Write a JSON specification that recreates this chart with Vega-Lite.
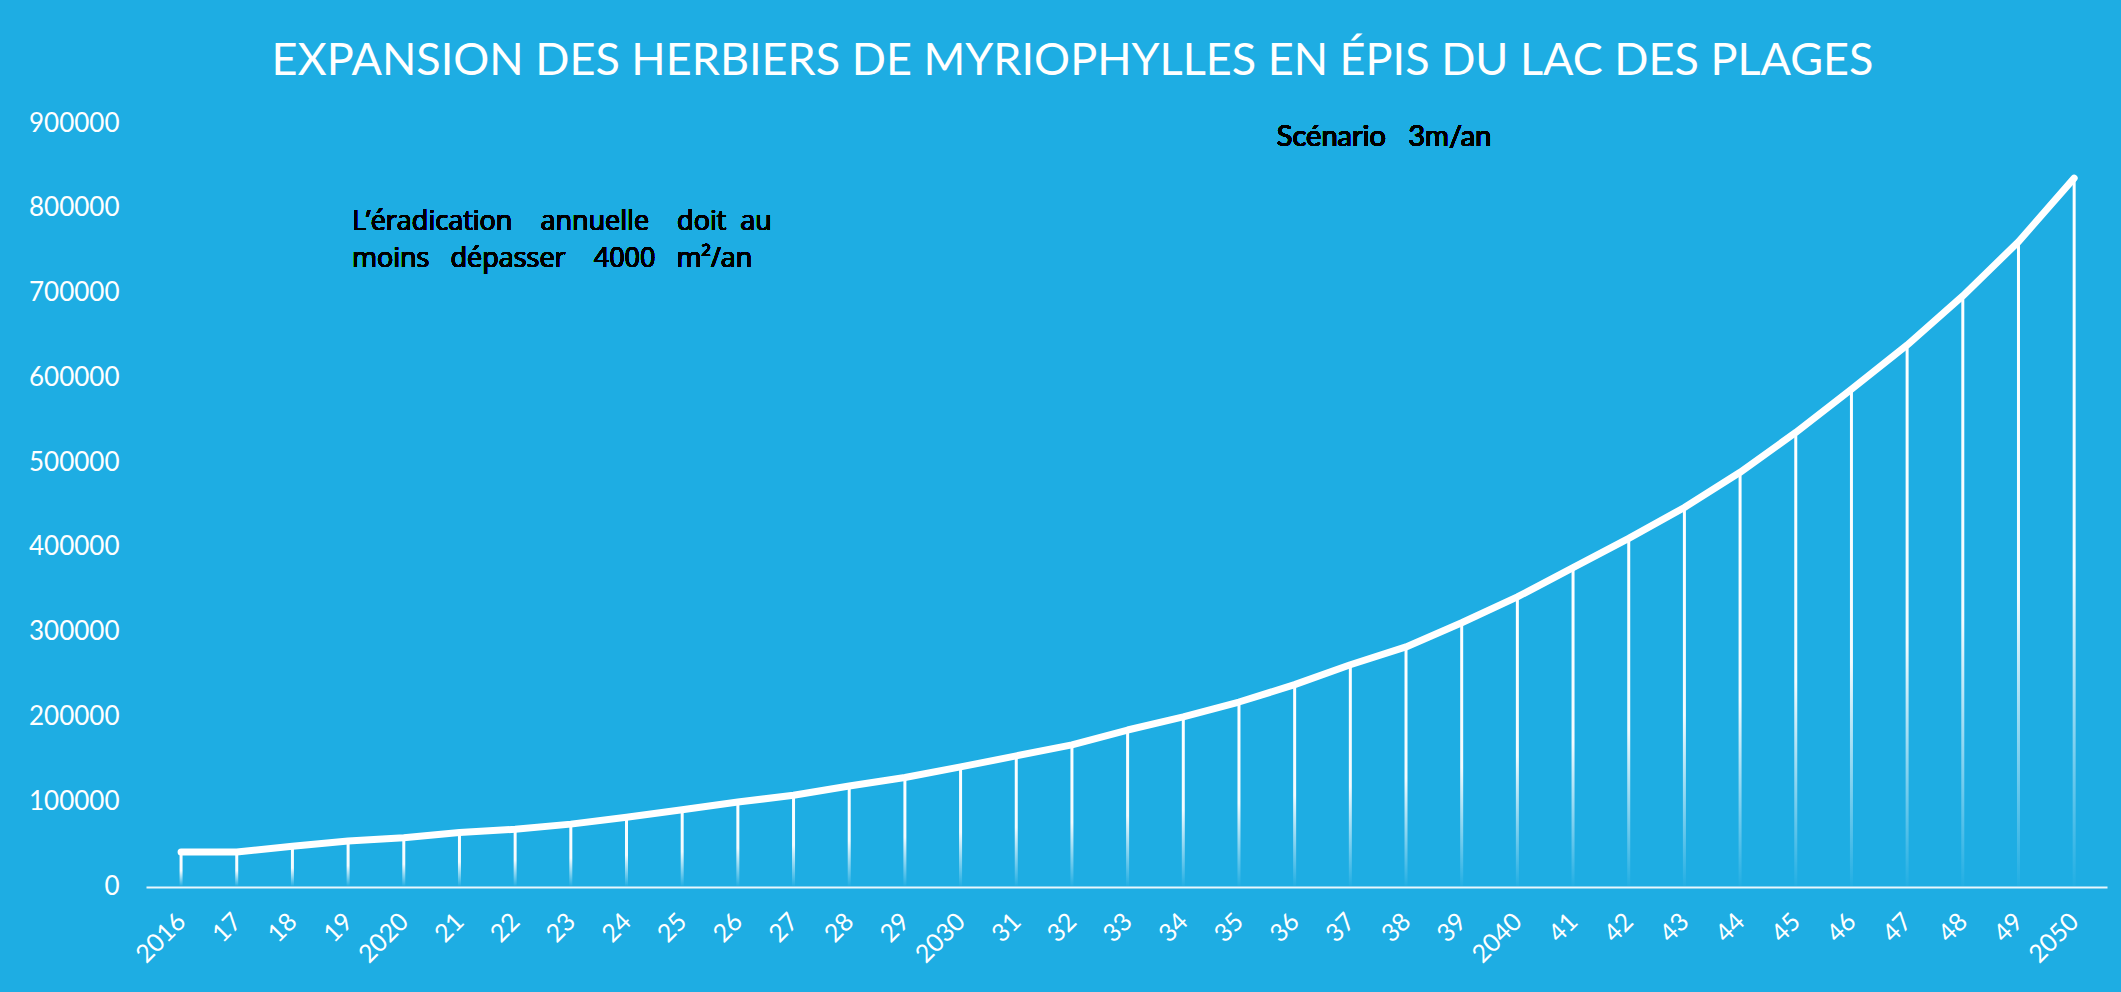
{
  "$schema": "https://vega.github.io/schema/vega-lite/v6.json",
  "width": 1961,
  "height": 763,
  "autosize": {"type": "none"},
  "padding": {"left": 146, "top": 123, "right": 14, "bottom": 106},
  "background": "#1eade3",
  "config": {
    "view": {"stroke": null},
    "font": "Lato"
  },
  "title": {
    "text": "EXPANSION DES HERBIERS DE MYRIOPHYLLES EN ÉPIS DU LAC DES PLAGES",
    "anchor": "middle",
    "frame": "group",
    "dx": -54,
    "offset": -10,
    "baseline": "alphabetic",
    "font": "Lato",
    "fontSize": 45,
    "fontWeight": "normal",
    "color": "#ffffff",
    "limit": 0
  },
  "data": {
    "values": [
      {"annee": 2016, "surface": 40000},
      {"annee": 2017, "surface": 40000},
      {"annee": 2018, "surface": 47000},
      {"annee": 2019, "surface": 53000},
      {"annee": 2020, "surface": 57000},
      {"annee": 2021, "surface": 63000},
      {"annee": 2022, "surface": 67000},
      {"annee": 2023, "surface": 73000},
      {"annee": 2024, "surface": 81000},
      {"annee": 2025, "surface": 90000},
      {"annee": 2026, "surface": 99000},
      {"annee": 2027, "surface": 107000},
      {"annee": 2028, "surface": 118000},
      {"annee": 2029, "surface": 128000},
      {"annee": 2030, "surface": 140500},
      {"annee": 2031, "surface": 153500},
      {"annee": 2032, "surface": 166500},
      {"annee": 2033, "surface": 184000},
      {"annee": 2034, "surface": 199500},
      {"annee": 2035, "surface": 217000},
      {"annee": 2036, "surface": 237500},
      {"annee": 2037, "surface": 261000},
      {"annee": 2038, "surface": 282000},
      {"annee": 2039, "surface": 310500},
      {"annee": 2040, "surface": 341000},
      {"annee": 2041, "surface": 375500},
      {"annee": 2042, "surface": 410000},
      {"annee": 2043, "surface": 446500},
      {"annee": 2044, "surface": 488000},
      {"annee": 2045, "surface": 535000},
      {"annee": 2046, "surface": 586000},
      {"annee": 2047, "surface": 638000},
      {"annee": 2048, "surface": 696000},
      {"annee": 2049, "surface": 760000},
      {"annee": 2050, "surface": 835000}
    ]
  },
  "encoding": {
    "x": {
      "field": "annee",
      "type": "quantitative",
      "scale": {"domain": [2015.46, 2050.5], "nice": false, "zero": false},
      "axis": {
        "title": null,
        "values": [2016,2017,2018,2019,2020,2021,2022,2023,2024,2025,2026,2027,2028,2029,2030,2031,2032,2033,2034,2035,2036,2037,2038,2039,2040,2041,2042,2043,2044,2045,2046,2047,2048,2049,2050],
        "labelExpr": "(datum.value % 10 == 0 || datum.value == 2016) ? ('' + datum.value) : slice('' + datum.value, 2)",
        "labelAngle": -45,
        "labelAlign": "right",
        "labelBaseline": "middle",
        "labelPadding": 30,
        "labelFont": "Lato",
        "labelFontSize": 25,
        "labelColor": "#ffffff",
        "labelOverlap": false,
        "labelFlush": false,
        "ticks": false,
        "tickSize": 0,
        "grid": false,
        "domain": true,
        "domainColor": "#ffffff",
        "domainWidth": 2,
        "domainOpacity": 0.9,
        "offset": 1
      }
    },
    "y": {
      "field": "surface",
      "type": "quantitative",
      "scale": {"domain": [0, 900000], "nice": false},
      "axis": {
        "title": null,
        "values": [0,100000,200000,300000,400000,500000,600000,700000,800000,900000],
        "format": "d",
        "labelFont": "Lato",
        "labelFontSize": 26,
        "labelColor": "#ffffff",
        "labelPadding": 27,
        "ticks": false,
        "tickSize": 0,
        "grid": false,
        "domain": false
      }
    }
  },
  "layer": [
    {
      "mark": {
        "type": "bar",
        "width": 3,
        "color": {
          "gradient": "linear",
          "x1": 0, "y1": 0, "x2": 0, "y2": 1,
          "stops": [
            {"offset": 0, "color": "rgba(255,255,255,1)"},
            {"offset": 0.55, "color": "rgba(255,255,255,0.95)"},
            {"offset": 1, "color": "rgba(255,255,255,0.02)"}
          ]
        }
      }
    },
    {
      "mark": {
        "type": "line",
        "color": "#ffffff",
        "strokeWidth": 7,
        "strokeCap": "round",
        "strokeJoin": "round"
      }
    },
    {
      "mark": {
        "type": "text",
        "align": "left",
        "baseline": "alphabetic",
        "font": "Open Sans",
        "fontSize": 27,
        "lineHeight": 37,
        "color": "#000000"
      },
      "encoding": {
        "x": {"datum": 2019.07},
        "y": {"datum": 773800},
        "text": {"value": ["L’éradication\u00a0\u00a0\u00a0 annuelle\u00a0\u00a0\u00a0 doit\u00a0 au", "moins\u00a0\u00a0 dépasser\u00a0\u00a0\u00a0 4000\u00a0\u00a0 m²/an"]}
      }
    },
    {
      "mark": {
        "type": "text",
        "align": "left",
        "baseline": "alphabetic",
        "font": "Lato",
        "fontSize": 29,
        "color": "#000000"
      },
      "encoding": {
        "x": {"datum": 2035.68},
        "y": {"datum": 872900},
        "text": {"value": "Scénario\u00a0\u00a0 3m/an"}
      }
    }
  ]
}
